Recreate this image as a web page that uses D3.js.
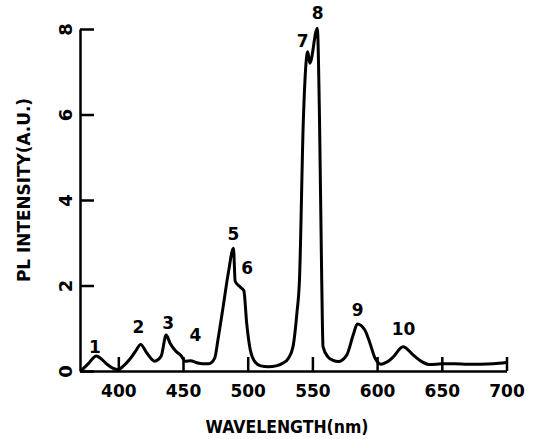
<!DOCTYPE html>
<html>
<head>
<meta charset="utf-8">
<script src="https://cdn.jsdelivr.net/npm/d3@7"></script>
<style>
  body { margin: 0; background: #fff; }
  svg text { font-family: "DejaVu Sans", sans-serif; font-weight: bold; fill: #000; }
</style>
</head>
<body>
<div id="chart"></div>
<script>
// Sets dimensions of SVG arena
var width = 535;
var height = 439;

// Spectrum
var wavelength = [371, 377, 383, 388, 392, 396, 400, 404, 409, 413, 417.3, 422, 428, 433, 437, 440, 444, 449, 451.5, 456,
  460, 465, 470, 474.5, 477, 481, 485, 489, 490.3, 494, 497, 499.2, 502, 505.5, 510, 516, 522, 527, 531.5, 535,
  538, 540, 543, 546.4, 548, 553.8, 555.5, 557.2, 558.2, 562, 566, 570, 576.5, 581.5, 584.7, 590.5, 594.5, 598.4,
  603, 607, 612.5, 620, 628, 634.5, 641, 650, 660, 670, 680, 690, 700];
var intensity = [0, 0.18, 0.35, 0.25, 0.14, 0.06, 0.03, 0.12, 0.28, 0.45, 0.62, 0.42, 0.23, 0.34, 0.84, 0.65, 0.48, 0.34, 0.23, 0.24,
  0.2, 0.17, 0.17, 0.3, 0.73, 1.5, 2.29, 2.87, 2.1, 1.97, 1.88, 1.12, 0.49, 0.22, 0.12, 0.1, 0.12, 0.18, 0.3, 0.57,
  1.35, 2.13, 5.87, 7.47, 7.2, 8.02, 5.87, 2.13, 0.57, 0.33, 0.25, 0.22, 0.37, 0.84, 1.1, 0.96, 0.65, 0.3,
  0.16, 0.2, 0.33, 0.57, 0.37, 0.22, 0.15, 0.17, 0.17, 0.16, 0.16, 0.17, 0.2];

// Peak numbers and where they sit (wavelength, intensity of label centre)
var peakLabels = ["1", "2", "3", "4", "5", "6", "7", "8", "9", "10"];
var peakWl = [382, 415.5, 438.5, 459.5, 489, 499.5, 542.5, 554, 585, 620.5];
var peakI = [0.57, 1.04, 1.13, 0.84, 3.2, 2.4, 7.72, 8.38, 1.42, 0.98];

var xTicks = [400, 450, 500, 550, 600, 650, 700];
var yTicks = [0, 2, 4, 6, 8];

var svg = d3.select("#chart").append("svg")
  .attr("width", width)
  .attr("height", height);

var x = d3.scaleLinear().domain([370, 700]).range([79.5, 506.5]);
var y = d3.scaleLinear().domain([0, 8]).range([371, 29]);

// x axis, ticks point inward
var xAxis = svg.append("g")
  .attr("transform", "translate(0,371)")
  .call(d3.axisBottom(x).tickValues(xTicks).tickSizeInner(-14).tickSizeOuter(0));
xAxis.selectAll("text")
  .attr("dy", null)
  .attr("y", 26)
  .style("font-size", "17px");

// y axis, ticks point inward and labels turned sideways
var yAxis = svg.append("g")
  .attr("transform", "translate(80,0)")
  .call(d3.axisLeft(y).tickValues(yTicks).tickSizeInner(-14).tickSizeOuter(0).tickFormat(d3.format("d")));
yAxis.selectAll("text")
  .attr("transform", "rotate(-90)")
  .attr("text-anchor", "middle")
  .attr("dy", null)
  .attr("x", 0)
  .attr("y", -8)
  .style("font-size", "18px");

svg.selectAll(".domain, .tick line")
  .attr("stroke", "#000")
  .attr("stroke-width", 2.5);

// the spectrum
var pts = wavelength.map(function(w, i) { return [w, intensity[i]]; });
var line = d3.line()
  .x(function(d) { return x(d[0]); })
  .y(function(d) { return y(d[1]); })
  .curve(d3.curveMonotoneX);

svg.append("path")
  .datum(pts)
  .attr("d", line)
  .attr("fill", "none")
  .attr("stroke", "#000")
  .attr("stroke-width", 3)
  .attr("stroke-linejoin", "round");

// peak numbers
svg.selectAll(".peak")
  .data(peakLabels)
  .enter()
  .append("text")
  .attr("class", "peak")
  .attr("x", function(d, i) { return x(peakWl[i]); })
  .attr("y", function(d, i) { return y(peakI[i]); })
  .attr("text-anchor", "middle")
  .attr("dominant-baseline", "central")
  .style("font-size", "17px")
  .text(function(d) { return d; });

// axis titles
svg.append("text")
  .attr("x", 287)
  .attr("y", 433)
  .attr("text-anchor", "middle")
  .attr("textLength", 163)
  .attr("lengthAdjust", "spacingAndGlyphs")
  .style("font-size", "17px")
  .text("WAVELENGTH(nm)");

svg.append("text")
  .attr("transform", "translate(30,190) rotate(-90)")
  .attr("text-anchor", "middle")
  .attr("textLength", 184)
  .attr("lengthAdjust", "spacingAndGlyphs")
  .style("font-size", "18px")
  .text("PL INTENSITY(A.U.)");
</script>
</body>
</html>
